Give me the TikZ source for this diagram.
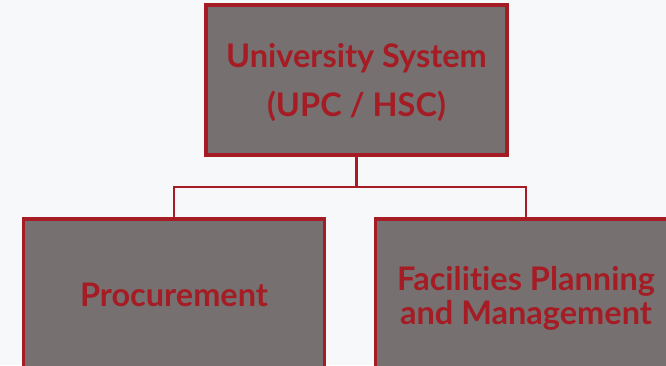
\documentclass[tikz,border=0pt]{standalone}
\usepackage{fontspec}
\setmainfont[Ligatures=NoCommon]{Lato}
\definecolor{bg}{HTML}{F7F8FA}
\definecolor{boxfill}{HTML}{767170}
\definecolor{boxred}{HTML}{A51C24}
\begin{document}
\begin{tikzpicture}[x=1pt,y=-1pt,
  orgbox/.style={draw=boxred, line width=3.5pt, fill=boxfill,
    minimum width=301pt, minimum height=150pt, inner sep=0pt},
  orgtext/.style={text=boxred, font=\bfseries\fontsize{32.5}{34}\selectfont,
    align=center, inner sep=0pt},
  link/.style={draw=boxred, line width=2.5pt}]
\useasboundingbox (0,0) rectangle (666,365);
\fill[bg] (0,0) rectangle (666,365);
\clip (0,0) rectangle (666,365);
\node[orgbox] (top) at (356.5,80) {};
\node[orgbox] (left) at (174,294) {};
\node[orgbox] (right) at (526,294) {};
\node[orgtext, font=\bfseries\fontsize{32.5}{49}\selectfont] (topT) at ([yshift=-3pt]top.center) {University System\\(UPC / HSC)};
\node[orgtext] (leftT) at ([yshift=-1pt]left.center) {Procurement};
\node[orgtext] (rightT) at ([yshift=-4pt]right.center) {Facilities Planning\\and Management};
\coordinate (mid) at (356.5,187);
\draw[link] (top.south) -- (mid);
\draw[link] (left.north) |- (mid) -| (right.north);
\end{tikzpicture}
\end{document}
